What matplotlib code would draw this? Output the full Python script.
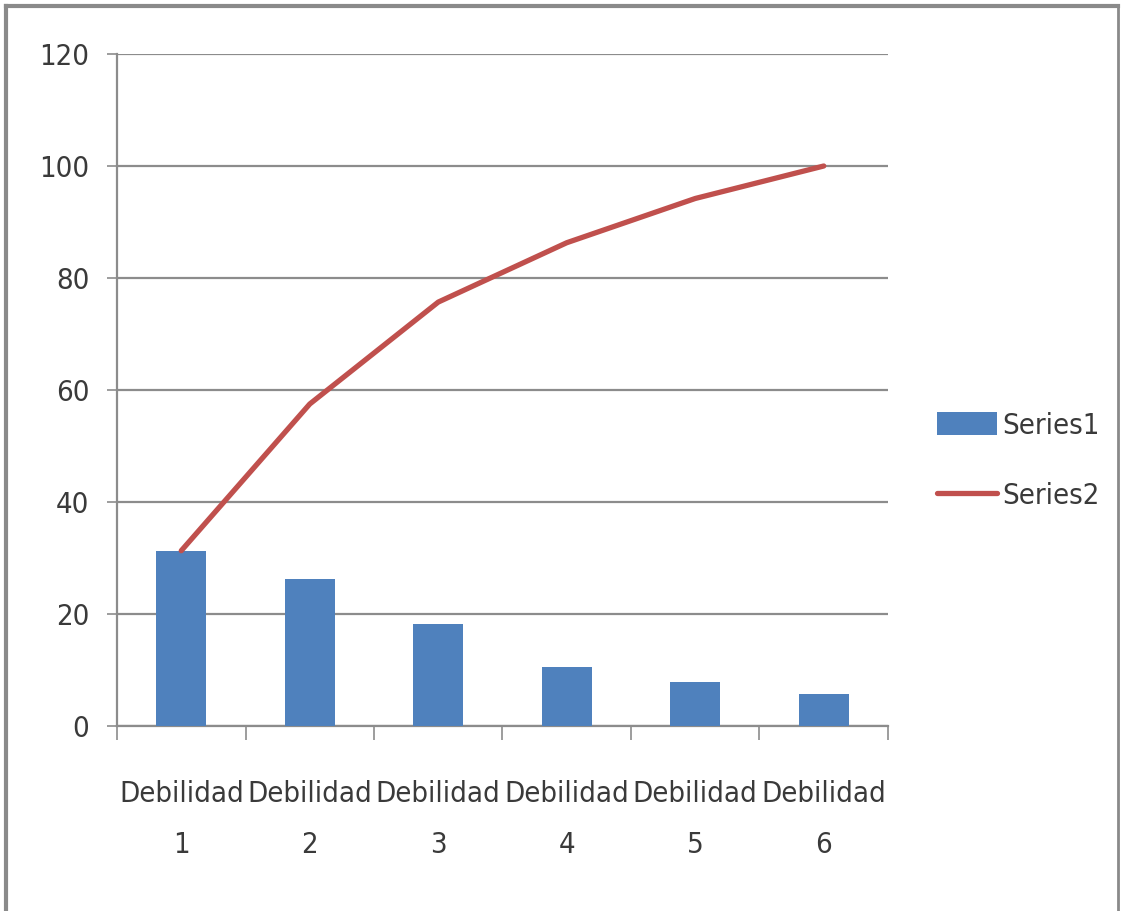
import matplotlib
matplotlib.use("Agg")
import matplotlib.pyplot as plt
from matplotlib import font_manager
from matplotlib.lines import Line2D

categories = ["Debilidad\n1", "Debilidad\n2", "Debilidad\n3",
              "Debilidad\n4", "Debilidad\n5", "Debilidad\n6"]
series1 = [31.3, 26.2, 18.2, 10.6, 7.9, 5.7]
series2 = [31.3, 57.5, 75.7, 86.3, 94.2, 100.0]
y_ticks = [0, 20, 40, 60, 80, 100, 120]

# the original uses a narrow Calibri-like face; pick a condensed one if there is one
narrow = None
for f in font_manager.fontManager.ttflist:
    if f.style != "normal" or f.weight not in (400, "normal", "regular"):
        continue
    if "Narrow" in f.name or "Condensed" in f.name or f.stretch in ("condensed", "semi-condensed"):
        if narrow is None or "Liberation" in f.name:
            narrow = f
if narrow is not None:
    plt.rcParams['font.family'] = [narrow.name, 'DejaVu Sans']
    plt.rcParams['font.stretch'] = narrow.stretch
    fs = 21
else:
    plt.rcParams['font.family'] = ['Liberation Sans', 'DejaVu Sans']
    fs = 20

text_color = "#3a3a3a"
grid_color = "#8c8c8c"

fig = plt.figure(figsize=(11.22, 9.11), dpi=100)
ax = fig.add_axes([117 / 1122, 1 - 726 / 911, (888 - 117) / 1122, (726 - 54) / 911])

x = list(range(len(categories)))
bars = ax.bar(x, series1, width=0.39, color="#4F81BD", label="Series1", zorder=3)
line, = ax.plot(x, series2, color="#C0504D", linewidth=3.8, solid_capstyle="round",
                label="Series2", zorder=4)

ax.set_xlim(-0.5, len(categories) - 0.5)
ax.set_ylim(0, 120)
ax.set_yticks(y_ticks)
ax.yaxis.grid(True, color=grid_color, linewidth=1.6, zorder=0)
ax.set_axisbelow(True)

# category boundaries as major ticks, labels on minor ticks
ax.set_xticks([i - 0.5 for i in range(len(categories) + 1)])
ax.set_xticklabels([])
ax.set_xticks(x, minor=True)
ax.set_xticklabels(categories, minor=True, fontsize=fs, color=text_color,
                   linespacing=2.05)
ax.tick_params(axis="x", which="major", length=10, width=1.2, color=grid_color,
               direction="out")
ax.tick_params(axis="x", which="minor", length=0, pad=39)
ax.tick_params(axis="y", length=7, width=1.2, color=grid_color, pad=13,
               labelsize=fs, labelcolor=text_color)

for side in ["top", "right"]:
    ax.spines[side].set_visible(False)
for side in ["left", "bottom"]:
    ax.spines[side].set_color(grid_color)
    ax.spines[side].set_linewidth(1.6)

fig.legend([bars, line], ["Series1", "Series2"], loc="center left",
           bbox_to_anchor=(937 / 1122, 1 - 461 / 911),
           frameon=False, fontsize=fs, borderpad=0, borderaxespad=0,
           handlelength=2.05, handleheight=0.85, handletextpad=0.2,
           labelspacing=1.45, labelcolor=text_color)

# outer border of the chart area
border = "#8a8a8a"
fig.add_artist(Line2D([6 / 1122, 6 / 1122], [0, 1 - 6 / 911], color=border, lw=3))
fig.add_artist(Line2D([6 / 1122, 1118 / 1122], [1 - 6 / 911, 1 - 6 / 911], color=border, lw=3))
fig.add_artist(Line2D([1118 / 1122, 1118 / 1122], [0, 1 - 6 / 911], color=border, lw=2))

fig.savefig("out.png", dpi=100)
